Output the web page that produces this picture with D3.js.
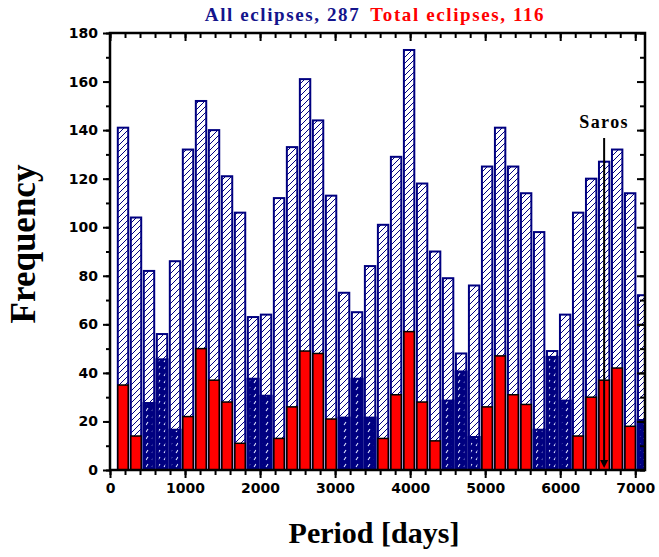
<!DOCTYPE html>
<html>
<head>
<meta charset="utf-8">
<script src="https://cdn.jsdelivr.net/npm/d3@7"></script>
<style>
  body { margin: 0; background: #fff; }
</style>
</head>
<body>
<svg id="chart" width="659" height="557"></svg>
<script>
// Interval between eclipses, binned at multiples of half an eclipse year (days)
const binStep = 173.31;
const binNumbers = d3.range(1, 42);

// All eclipse pairs per interval bin
const allEclipses = [141, 104, 82, 56, 86, 132, 152, 140, 121, 106,
                     63, 64, 112, 133, 161, 144, 113, 73, 65, 84,
                     101, 129, 173, 118, 90, 79, 48, 76, 125, 141,
                     125, 114, 98, 49, 64, 106, 120, 127, 132, 114, 72];

// Total eclipse pairs per bin (red bars)
const totalEclipses = [35, 14, null, null, null, 22, 50, 37, 28, 11,
                       null, null, 13, 26, 49, 48, 21, null, null, null,
                       13, 31, 57, 28, 12, null, null, null, 26, 47,
                       31, 27, null, null, null, 14, 30, 37, 42, 18, null];

// Bins where the lower block is shaded dark blue instead
const shadedCounts = [null, null, 28, 46, 17, null, null, null, null, null,
                      38, 31, null, null, null, null, null, 22, 38, 22,
                      null, null, null, null, null, 29, 41, 14, null, null,
                      null, null, 17, 47, 29, null, null, null, null, null, 21];

const xTickValues = [0, 1000, 2000, 3000, 4000, 5000, 6000, 7000];
const yTickValues = [0, 20, 40, 60, 80, 100, 120, 140, 160, 180];
const sarosDays = 6585.32;
const legendAll = "All eclipses, 287";
const legendTotal = "Total eclipses, 116";

const navy = "#000080";
const serif = "'Liberation Serif', 'Times New Roman', serif";
const sans = "'DejaVu Sans', Verdana, sans-serif";
const plot = { left: 110, right: 645, top: 33, bottom: 470 };

const svg = d3.select("#chart");
const x = d3.scaleLinear().domain([0, 7130]).range([plot.left, plot.right]);
const y = d3.scaleLinear().domain([0, 180]).range([plot.bottom, plot.top]);

const defs = svg.append("defs");
const hatch = defs.append("pattern").attr("id", "hatch")
  .attr("patternUnits", "userSpaceOnUse").attr("width", 6).attr("height", 6);
hatch.append("rect").attr("width", 6).attr("height", 6).attr("fill", "#fff");
hatch.append("path").attr("d", "M-1,1 L1,-1 M0,6 L6,0 M5,7 L7,5")
  .attr("stroke", navy).attr("stroke-width", 1);

const sparse = defs.append("pattern").attr("id", "sparse")
  .attr("patternUnits", "userSpaceOnUse").attr("width", 6).attr("height", 7);
sparse.append("path").attr("d", "M2,5 L4,2")
  .attr("stroke", "#dfe4ff").attr("stroke-width", 1.1);

defs.append("clipPath").attr("id", "plotClip").append("rect")
  .attr("x", plot.left).attr("y", plot.top)
  .attr("width", plot.right - plot.left).attr("height", plot.bottom - plot.top);

const barW = x(binStep * 0.8) - x(0);
const binW = x(binStep) - x(0);
const cx = i => x(binNumbers[i] * binStep);

const bars = svg.append("g").attr("clip-path", "url(#plotClip)");

// hatched bars: all eclipses
bars.selectAll("rect.all").data(allEclipses).join("rect")
  .attr("class", "all")
  .attr("x", (d, i) => cx(i) - barW / 2)
  .attr("y", d => y(d))
  .attr("width", barW)
  .attr("height", d => y(0) - y(d))
  .attr("fill", "url(#hatch)")
  .attr("stroke", navy).attr("stroke-width", 2);

// dark blue lower blocks
const shaded = shadedCounts.map((v, i) => ({ v, i })).filter(d => d.v != null);
bars.selectAll("rect.shade").data(shaded).join("rect")
  .attr("class", "shade")
  .attr("x", d => cx(d.i) - binW / 2)
  .attr("y", d => y(d.v))
  .attr("width", binW)
  .attr("height", d => y(0) - y(d.v))
  .attr("fill", navy);
bars.selectAll("rect.streak").data(shaded).join("rect")
  .attr("class", "streak")
  .attr("x", d => cx(d.i) - barW / 2 + 2)
  .attr("y", d => y(d.v) + 2)
  .attr("width", barW - 4)
  .attr("height", d => Math.max(0, y(0) - y(d.v) - 3))
  .attr("fill", "url(#sparse)");

// red bars: total eclipses
const totals = totalEclipses.map((v, i) => ({ v, i })).filter(d => d.v != null);
bars.selectAll("rect.total").data(totals).join("rect")
  .attr("class", "total")
  .attr("x", d => cx(d.i) - barW / 2)
  .attr("y", d => y(d.v))
  .attr("width", barW)
  .attr("height", d => y(0) - y(d.v))
  .attr("fill", "#ff0000")
  .attr("stroke", "#000").attr("stroke-width", 1.5);

// axes
const minorX = d3.range(0, 7001, 200);
const minorY = d3.range(0, 181, 10);
function styleAxis(g) {
  g.select(".domain").remove();
  g.selectAll(".tick line").attr("stroke", "#000").attr("stroke-width", 2);
  g.selectAll(".tick text")
    .style("font-family", sans).style("font-size", "14px").style("font-weight", "bold")
    .attr("fill", "#000");
}
// bottom
svg.append("g").attr("transform", `translate(0,${plot.bottom})`)
  .call(d3.axisBottom(x).tickValues(minorX).tickSize(5).tickFormat(""))
  .call(styleAxis);
svg.append("g").attr("transform", `translate(0,${plot.bottom})`)
  .call(d3.axisBottom(x).tickValues(xTickValues).tickSize(8).tickPadding(5).tickFormat(d3.format("d")))
  .call(styleAxis);
// top (inward ticks)
svg.append("g").attr("transform", `translate(0,${plot.top})`)
  .call(d3.axisBottom(x).tickValues(minorX).tickSize(5).tickFormat(""))
  .call(styleAxis);
svg.append("g").attr("transform", `translate(0,${plot.top})`)
  .call(d3.axisBottom(x).tickValues(xTickValues).tickSize(8).tickFormat(""))
  .call(styleAxis);
// left
svg.append("g").attr("transform", `translate(${plot.left},0)`)
  .call(d3.axisLeft(y).tickValues(minorY).tickSize(4).tickFormat(""))
  .call(styleAxis);
svg.append("g").attr("transform", `translate(${plot.left},0)`)
  .call(d3.axisLeft(y).tickValues(yTickValues).tickSize(7).tickPadding(5).tickFormat(d3.format("d")))
  .call(styleAxis);
// right (inward ticks)
svg.append("g").attr("transform", `translate(${plot.right},0)`)
  .call(d3.axisLeft(y).tickValues(minorY).tickSize(5).tickFormat(""))
  .call(styleAxis);
svg.append("g").attr("transform", `translate(${plot.right},0)`)
  .call(d3.axisLeft(y).tickValues(yTickValues).tickSize(8).tickFormat(""))
  .call(styleAxis);

// frame
svg.append("rect")
  .attr("x", plot.left).attr("y", plot.top)
  .attr("width", plot.right - plot.left).attr("height", plot.bottom - plot.top)
  .attr("fill", "none").attr("stroke", "#000").attr("stroke-width", 2.5);

// Saros marker
const sx = x(sarosDays);
svg.append("line")
  .attr("x1", sx).attr("x2", sx).attr("y1", 138).attr("y2", y(0) - 6)
  .attr("stroke", "#000").attr("stroke-width", 2);
svg.append("path")
  .attr("d", `M${sx - 4},${y(0) - 10} L${sx + 4},${y(0) - 10} L${sx},${y(0) - 2} Z`)
  .attr("fill", "#000");
svg.append("text")
  .attr("x", sx).attr("y", 128)
  .attr("text-anchor", "middle")
  .style("font-family", serif).style("font-weight", "bold").style("font-size", "18px")
  .attr("letter-spacing", 1.4)
  .text("Saros");

// legend / title line
const title = svg.append("text")
  .attr("x", 375).attr("y", 21)
  .attr("text-anchor", "middle")
  .style("font-family", serif).style("font-weight", "bold").style("font-size", "19px")
  .attr("letter-spacing", 1.6);
title.append("tspan").attr("fill", "#14148c").text(legendAll);
title.append("tspan").attr("fill", "#ff0000").attr("dx", 10).text(legendTotal);

// axis titles
svg.append("text")
  .attr("transform", `translate(35,244) rotate(-90)`)
  .attr("text-anchor", "middle")
  .style("font-family", serif).style("font-weight", "bold").style("font-size", "35px")
  .text("Frequency");
svg.append("text")
  .attr("x", 374).attr("y", 543)
  .attr("text-anchor", "middle")
  .style("font-family", serif).style("font-weight", "bold").style("font-size", "30px")
  .text("Period [days]");
</script>
</body>
</html>
